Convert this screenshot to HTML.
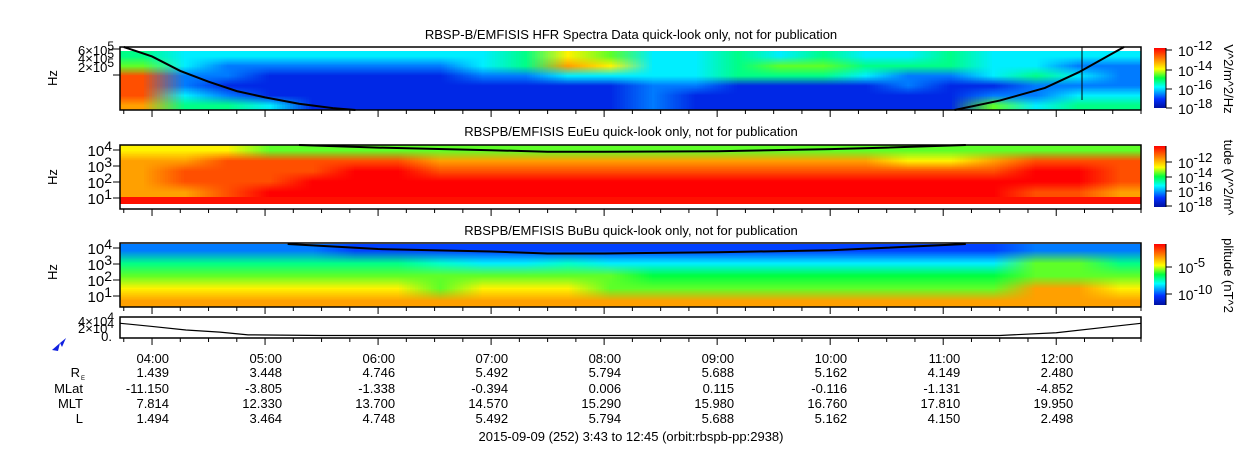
<!DOCTYPE html>
<html><head><meta charset="utf-8"><style>
html,body{margin:0;padding:0;background:#fff;width:1250px;height:449px;overflow:hidden;font-family:"Liberation Sans",sans-serif}
canvas{position:absolute;image-rendering:auto}
svg{position:absolute;left:0;top:0}
text{font-family:"Liberation Sans","DejaVu Sans",sans-serif;fill:#000}
</style></head><body>
<canvas id="c1" style="left:120px;top:51px;width:1021px;height:59px" width="24" height="6"></canvas>
<canvas id="c2" style="left:120px;top:145px;width:1021px;height:52px" width="24" height="5"></canvas>
<div style="position:absolute;left:120px;top:197px;width:1021px;height:7px;background:#ff1000"></div>
<canvas id="c3" style="left:120px;top:244px;width:1021px;height:63px" width="24" height="5"></canvas>
<svg id="s" width="1250" height="449"></svg>
<script>
const hfrRows=[
[4,3,3,3,3,3,3,3,3,4,6,5,3,3,4,3,4,3,3,4,3,3,3,3],
[5,3,2,2,2,2,2,2,3,4,7,6,3,3,4,5,5,4,4,4,3,3,2,2],
[8,2,2,1,1,1,1,1,2,2,3,3,3,3,4,4,4,3,2,2,3,4,3,2],
[8,2,1,1,1,1,1,1,1,1,1,1,2,2,1,1,1,1,2,1,1,2,2,2],
[8,3,2,1,1,1,1,1,1,1,1,1,2,1,1,1,1,1,1,1,2,2,3,3],
[7,4,4,3,1,1,1,1,1,1,1,1,2,1,1,1,1,1,1,1,5,3,4,4]];
const euRows=[
[6,6,6,5,5,5,5,5,5,5,5,5,5,5,5,5,5,5,5,5,5,5,5,5],
[7,7,8,8,8,8,8,7,7,7,7,7,7,7,7,7,7,7,6,6,7,8,8,8],
[7,8,8,8,8,9,9,8,8,8,8,8,8,8,8,8,8,8,8,8,8,9,9,8],
[7,8,8,8,9,9,9,9,9,9,9,9,9,9,9,9,9,9,9,9,9,9,9,8],
[7,7,8,9,9,9,9,9,9,9,9,9,9,9,9,9,9,9,9,9,9,8,8,7]];
const buRows=[
[2,2,2,2,2,1.5,1.5,1.5,1.5,1.5,1.5,1.5,1.5,1.5,1.5,1.5,1.5,1.5,1.5,1.5,1.5,2,2,2],
[4,4,4,4,4,4,4,3.5,3,3,3.5,3,3,3,3,3,3,3,3,3,3,5,5,4],
[5,5,5,5,5,5,5,5,5,5,5,5,4.5,4.5,4.5,4.5,4.5,4.5,4.5,4.5,4.5,5,5,5],
[6,6,6,6,6,6,6,5,6,6,6,5,5,5,5,5,5,5,5,5,5,7,7,6],
[7,7,7,7,7,7,7,7,7,7,7,7,7,7,7,7,7,7,7,7,7,7,7,7]];
const hfrLineL=[[3.75,0],[4.0,0.15],[4.25,0.38],[4.5,0.55],[4.75,0.7],[5.0,0.8],[5.3,0.9],[5.6,0.97],[5.8,1.0]];
const hfrLineR=[[11.1,1],[11.5,0.85],[11.9,0.65],[12.2,0.4],[12.5,0.1],[12.6,0]];
const euLine=[[5.3,0],[6.0,0.05],[7.0,0.1],[7.5,0.13],[8.0,0.13],[9.0,0.12],[10.0,0.08],[10.5,0.05],[11.2,0]];
const buLine=[[5.2,0],[6.0,0.08],[7.0,0.12],[7.5,0.15],[8.0,0.15],[9.0,0.13],[10.0,0.1],[10.5,0.06],[11.2,0]];
const altLine=[[3.72,0.3],[4.0,0.45],[4.3,0.62],[4.6,0.72],[4.85,0.85],[5.5,0.88],[11.5,0.88],[12.0,0.75],[12.5,0.45],[12.75,0.3]];
const hourLabels=["04:00","05:00","06:00","07:00","08:00","09:00","10:00","11:00","12:00"];
const reVals=["1.439","3.448","4.746","5.492","5.794","5.688","5.162","4.149","2.480"];
const mlatVals=["-11.150","-3.805","-1.338","-0.394","0.006","0.115","-0.116","-1.131","-4.852"];
const mltVals=["7.814","12.330","13.700","14.570","15.290","15.980","16.760","17.810","19.950"];
const lVals=["1.494","3.464","4.748","5.492","5.794","5.688","5.162","4.150","2.498"];

const T0=3+43/60,T1=12.75,X0=120,X1=1141;
const xs=h=>X0+(h-T0)/(T1-T0)*(X1-X0);
const stops=[[0,[0,16,160]],[0.15,[0,48,255]],[0.35,[0,255,255]],[0.5,[0,255,64]],[0.65,[255,255,0]],[0.82,[255,128,0]],[1,[255,0,0]]];
function cmap(v){for(let i=1;i<stops.length;i++){if(v<=stops[i][0]){const a=stops[i-1],b=stops[i],t=(v-a[0])/(b[0]-a[0]);return a[1].map((c,k)=>Math.round(c+(b[1][k]-c)*t));}}return [255,0,0];}
function paint(id,rows){const c=document.getElementById(id),ctx=c.getContext('2d');rows.forEach((r,j)=>r.forEach((v,i)=>{const k=cmap(v/9);ctx.fillStyle=`rgb(${k[0]},${k[1]},${k[2]})`;ctx.fillRect(i,j,1,1);}));}
paint('c1',hfrRows);paint('c2',euRows);paint('c3',buRows);

const S=document.getElementById('s'),NS='http://www.w3.org/2000/svg';
function el(t,a,p){const e=document.createElementNS(NS,t);for(const k in a)e.setAttribute(k,a[k]);(p||S).appendChild(e);return e;}
function txt(x,y,s,o){const e=el('text',Object.assign({x:x,y:y,'font-size':13},o||{}));e.textContent=s;return e;}
function curve(pts,top,h,name,w){const e=el('polyline',{points:pts.map(p=>xs(p[0])+','+(top+p[1]*h)).join(' '),fill:'none',stroke:'#000','stroke-width':w||2});

}
curve(hfrLineL,47,63,'hfr-cutoff-line-left');curve(hfrLineR,47,63,'hfr-cutoff-line-right');
el('line',{x1:1082,y1:47,x2:1082,y2:100,stroke:'#000','stroke-width':1});
curve(euLine,145,52,'eueu-cutoff-line');curve(buLine,244,63,'bubu-cutoff-line');
curve(altLine,317,21,'altitude-line',1.2);

const panels=[[47,110,'hfr'],[145,209,'eueu'],[243,307,'bubu'],[317,338,'alt']];
panels.forEach(p=>{const r=el('rect',{x:120,y:p[0],width:1021,height:p[1]-p[0],fill:'none',stroke:'#000','stroke-width':1.5});


for(let q=15;q<=12*60+45;q+=15){const h=q/60;if(h<T0||h>T1)continue;const x=xs(h),maj=(q%60===0);
el('line',{x1:x,y1:p[1],x2:x,y2:p[1]+(maj?7:4),stroke:'#000','stroke-width':1});}
});
function sup(x,y,b,e,fs,anchor){const t=el('text',{x:x,y:y,'font-size':fs||13,'text-anchor':anchor||'end'});t.textContent=b;const s=el('tspan',{dy:-5,'font-size':(fs||13)-1},t);s.textContent=e;return t;}
txt(631,39,'RBSP-B/EMFISIS  HFR Spectra Data quick-look only, not for publication',{'text-anchor':'middle'});
txt(631,136,'RBSPB/EMFISIS  EuEu quick-look only, not for publication',{'text-anchor':'middle'});
txt(631,235,'RBSPB/EMFISIS  BuBu quick-look only, not for publication',{'text-anchor':'middle'});
[[57,78],[57,177],[57,272]].forEach(p=>{txt(p[0],p[1],'Hz',{transform:`rotate(-90 ${p[0]} ${p[1]})`,'text-anchor':'middle'});});
sup(114,55,'6×10','5',13);sup(114,63,'4×10','5',13);sup(114,72,'2×10','5',13);
el('line',{x1:113,y1:75,x2:120,y2:75,stroke:'#000'});el('line',{x1:113,y1:49,x2:120,y2:49,stroke:'#000'});
[[150,'4'],[166,'3'],[182,'2'],[198,'1']].forEach(a=>{sup(112,a[0]+6,'10',a[1],15);el('line',{x1:113,y1:a[0],x2:120,y2:a[0],stroke:'#000'});});
[[248,'4'],[264,'3'],[280,'2'],[296,'1']].forEach(a=>{sup(112,a[0]+6,'10',a[1],15);el('line',{x1:113,y1:a[0],x2:120,y2:a[0],stroke:'#000'});});
sup(114,326,'4×10','4',13);sup(114,333,'2×10','4',13);txt(112,341,'0.',{'text-anchor':'end'});
const defs=el('defs',{});const g=el('linearGradient',{id:'cb',x1:0,y1:1,x2:0,y2:0},defs);
stops.forEach(s=>el('stop',{offset:s[0],'stop-color':`rgb(${s[1].join(',')})`},g));
[[48,110,[['-12',50],['-14',70],['-16',89],['-18',108]],'V^2/m^2/Hz'],[146,209,[['-12',162],['-14',177],['-16',191],['-18',206]],'tude (V^2/m^'],[244,307,[['-5',267],['-10',294]],'plitude (nT^2']].forEach((c,i)=>{
const r=el('rect',{x:1154,y:c[0],width:12,height:c[1]-c[0]-2,fill:'url(#cb)'});


el('line',{x1:1166,y1:c[0],x2:1166,y2:c[1]-2,stroke:'#000'});
c[2].forEach(t=>{el('line',{x1:1166,y1:t[1],x2:1172,y2:t[1],stroke:'#000'});const e=el('text',{x:1178,y:t[1]+6,'font-size':14});e.textContent='10';const s=el('tspan',{dy:-6,'font-size':13},e);s.textContent=t[0];});
const cx=1224,cy=(c[0]+c[1])/2;txt(cx,cy,c[3],{transform:`rotate(90 ${cx} ${cy})`,'text-anchor':'middle'});
});
el('polygon',{points:'52,350 60,343 58,351',fill:'#1020e0'});el('polygon',{points:'66,338 60,343 62,347',fill:'#1020e0'});
const rowsY=[377,393,408,423];
txt(80,rowsY[0],'R',{'text-anchor':'end'});txt(81,rowsY[0]+3,'E',{'font-size':6});
txt(83,rowsY[1],'MLat',{'text-anchor':'end'});txt(83,rowsY[2],'MLT',{'text-anchor':'end'});txt(83,rowsY[3],'L',{'text-anchor':'end'});
hourLabels.forEach((h,i)=>{const x=xs(4+i)+17;
txt(x,363,h,{'text-anchor':'end'});
txt(x,rowsY[0],reVals[i],{'text-anchor':'end'});
txt(x,rowsY[1],mlatVals[i],{'text-anchor':'end'});
txt(x,rowsY[2],mltVals[i],{'text-anchor':'end'});
txt(x,rowsY[3],lVals[i],{'text-anchor':'end'});});
txt(631,441,'2015-09-09 (252) 3:43 to 12:45 (orbit:rbspb-pp:2938)',{'text-anchor':'middle'});
</script>
</body></html>
